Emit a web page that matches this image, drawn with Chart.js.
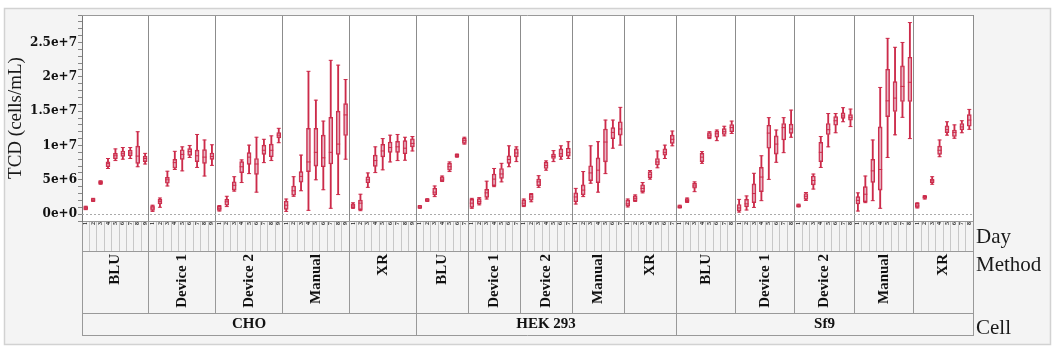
<!DOCTYPE html>
<html>
<head>
<meta charset="utf-8">
<script src="https://cdn.jsdelivr.net/npm/chart.js@4/dist/chart.umd.min.js"></script>
<style>
  html, body { margin: 0; padding: 0; background: #fff; }
  #wrap { width: 1056px; height: 349px; }
</style>
</head>
<body>
<div id="wrap"><canvas id="c" width="1056" height="349"></canvas></div>
<script>
// ---------- DATA (values in millions of cells/mL: [min, q1, median, q3, max]) ----------
const cellNames = ['CHO', 'HEK 293', 'Sf9'];
const methodNames = ['BLU', 'Device 1', 'Device 2', 'Manual', 'XR'];
const choDays = ['1', '2', '3', '4', '5', '6', '7', '8', '9'];
const hekDays = ['1', '2', '3', '4', '5', '6', '7'];
const sf9Days = ['1', '2', '3', '4', '5', '6', '7', '8'];
const yTickValues = [0, 5, 10, 15, 20, 25];
const yTickLabels = ['0e+0', '5e+6', '1e+7', '1.5e+7', '2e+7', '2.5e+7'];

const choBLU = [
  [0.65, 0.7, 0.9, 1.1, 1.15], [1.85, 1.9, 2.05, 2.25, 2.3], [4.35, 4.45, 4.6, 4.8, 4.85],
  [6.65, 6.9, 7.35, 7.6, 8.1], [7.8, 8.07, 8.5, 8.85, 9.5], [8.0, 8.4, 8.8, 9.2, 9.7],
  [8.1, 8.5, 8.9, 9.3, 9.7], [6.9, 7.4, 8.45, 9.9, 12.0], [7.3, 7.65, 8.1, 8.45, 8.85]
];
const choDevice1 = [
  [0.4, 0.55, 0.9, 1.2, 1.3], [1.0, 1.5, 1.85, 2.15, 2.35], [4.1, 4.52, 5.0, 5.35, 6.25],
  [6.5, 6.7, 7.5, 7.97, 9.15], [6.3, 7.97, 8.7, 9.38, 9.8], [8.25, 8.55, 9.1, 9.55, 10.0],
  [6.8, 7.64, 8.5, 9.33, 11.6], [5.55, 7.4, 8.3, 9.4, 10.8], [7.1, 7.97, 8.4, 8.9, 10.1]
];
const choDevice2 = [
  [0.45, 0.55, 0.85, 1.15, 1.25], [1.1, 1.3, 1.8, 2.15, 2.6], [3.35, 3.5, 4.2, 4.7, 5.45],
  [4.6, 6.05, 6.9, 7.65, 7.9], [5.9, 7.25, 8.3, 8.95, 10.05], [3.2, 5.8, 7.3, 8.1, 11.2],
  [7.5, 8.7, 9.3, 10.05, 10.9], [7.8, 8.36, 9.3, 10.2, 11.4], [10.4, 11.1, 11.5, 11.87, 12.5]
];
const choManual = [
  [0.4, 0.7, 1.3, 1.9, 2.2], [2.6, 2.75, 3.4, 4.1, 5.45], [3.4, 4.65, 5.5, 6.2, 8.6],
  [0.55, 6.2, 7.6, 12.5, 20.8], [5.0, 7.0, 9.0, 12.5, 16.6], [3.55, 6.9, 8.2, 11.5, 13.55],
  [0.85, 7.3, 9.0, 14.1, 22.4], [2.85, 8.7, 10.2, 15.0, 21.7], [8.0, 11.45, 14.45, 16.1, 19.6]
];
const choXR = [
  [0.85, 0.9, 1.2, 1.5, 1.65], [0.5, 0.65, 1.6, 2.05, 2.9], [3.9, 4.57, 5.0, 5.45, 6.0],
  [6.05, 6.95, 7.8, 8.6, 9.8], [6.45, 8.35, 9.2, 10.15, 11.0], [7.6, 9.0, 9.7, 10.5, 11.5],
  [7.8, 9.0, 9.8, 10.6, 11.6], [7.85, 8.8, 9.6, 10.7, 11.2], [9.2, 9.8, 10.3, 10.95, 11.3]
];
const hekBLU = [
  [0.85, 0.9, 1.05, 1.2, 1.25], [1.85, 1.9, 2.05, 2.2, 2.25], [2.55, 2.8, 3.2, 3.77, 4.1],
  [4.75, 4.83, 5.1, 5.45, 5.55], [6.2, 6.42, 6.9, 7.4, 7.6], [8.3, 8.35, 8.5, 8.7, 8.75],
  [10.2, 10.3, 10.7, 11.05, 11.2]
];
const hekDevice1 = [
  [0.85, 0.98, 1.6, 2.15, 2.3], [1.35, 1.47, 1.85, 2.25, 2.4], [2.2, 2.45, 3.1, 3.6, 4.8],
  [4.0, 4.15, 5.1, 5.84, 6.65], [4.7, 5.2, 5.85, 6.65, 7.4], [6.9, 7.4, 7.95, 8.5, 9.95],
  [7.65, 8.35, 8.9, 9.5, 9.8]
];
const hekDevice2 = [
  [1.1, 1.18, 1.6, 2.05, 2.2], [1.8, 2.05, 2.5, 2.9, 3.0], [3.9, 4.15, 4.7, 5.1, 5.6],
  [6.4, 6.65, 7.1, 7.55, 7.75], [7.65, 8.1, 8.4, 8.75, 9.25], [8.0, 8.35, 8.8, 9.5, 9.95],
  [8.1, 8.45, 9.0, 9.6, 10.55]
];
const hekManual = [
  [1.47, 1.8, 2.5, 3.1, 3.75], [2.55, 2.8, 3.5, 4.25, 6.2], [4.5, 4.87, 6.0, 7.05, 9.95],
  [3.2, 4.6, 6.4, 8.2, 10.55], [5.9, 7.6, 10.5, 12.4, 13.7], [9.6, 11.0, 11.9, 12.6, 13.7],
  [10.05, 11.5, 12.4, 13.45, 15.55]
];
const hekXR = [
  [1.05, 1.18, 1.5, 2.05, 2.2], [1.85, 1.95, 2.3, 2.65, 2.8], [3.1, 3.27, 3.75, 4.25, 4.6],
  [5.1, 5.3, 5.75, 6.2, 6.35], [6.75, 7.15, 7.6, 8.1, 9.2], [8.1, 8.6, 9.0, 9.5, 10.05],
  [9.95, 10.3, 10.9, 11.5, 12.1]
];
const sf9BLU = [
  [0.9, 0.95, 1.08, 1.25, 1.3], [1.7, 1.8, 2.0, 2.25, 2.35], [3.27, 3.77, 4.1, 4.48, 4.7],
  [7.4, 7.64, 8.3, 8.85, 9.1], [11.0, 11.15, 11.5, 11.87, 12.0], [10.7, 11.2, 11.7, 12.1, 12.25],
  [11.4, 11.6, 12.0, 12.45, 12.8], [11.75, 12.0, 12.6, 13.05, 13.55]
];
const sf9Device1 = [
  [0.3, 0.45, 0.9, 1.4, 2.15], [0.6, 1.08, 1.5, 2.15, 2.65], [0.98, 1.67, 3.0, 4.4, 5.95],
  [1.96, 3.27, 5.4, 6.8, 8.5], [5.06, 9.6, 11.8, 12.95, 14.05], [7.55, 8.75, 10.2, 11.4, 12.25],
  [8.95, 10.8, 12.6, 13.2, 14.05], [11.2, 11.75, 12.4, 13.1, 15.15]
];
const sf9Device2 = [
  [1.05, 1.1, 1.23, 1.4, 1.45], [2.0, 2.15, 2.6, 3.0, 3.15], [3.65, 4.25, 4.9, 5.55, 5.84],
  [6.8, 7.64, 9.0, 10.45, 11.3], [9.8, 11.6, 12.3, 13.2, 14.65], [11.85, 12.95, 13.6, 14.2, 14.65],
  [13.45, 13.95, 14.3, 14.75, 15.5], [12.75, 13.7, 14.1, 14.5, 15.3]
];
const sf9Manual = [
  [0.45, 1.47, 2.0, 2.55, 3.1], [1.67, 1.8, 2.9, 4.0, 5.55], [1.96, 4.63, 6.3, 7.97, 10.8],
  [0.85, 3.5, 6.5, 12.7, 18.45], [8.25, 14.2, 16.5, 21.1, 25.6], [11.55, 14.95, 16.9, 19.3, 24.3],
  [14.1, 16.4, 18.6, 21.6, 25.0], [11.0, 16.4, 19.2, 22.85, 27.9]
];
const sf9XR = [
  [0.9, 0.98, 1.2, 1.57, 1.65], [2.2, 2.3, 2.45, 2.6, 2.7], [4.35, 4.57, 4.85, 5.1, 5.45],
  [8.36, 8.7, 9.3, 9.9, 10.8], [11.5, 11.87, 12.3, 12.85, 13.45], [11.05, 11.3, 11.9, 12.25, 13.0],
  [11.85, 12.25, 12.7, 13.2, 13.6], [12.35, 12.8, 13.7, 14.5, 15.25]
];

const cellDays = [choDays, hekDays, sf9Days];
const cellBoxes = [
  [choBLU, choDevice1, choDevice2, choManual, choXR],
  [hekBLU, hekDevice1, hekDevice2, hekManual, hekXR],
  [sf9BLU, sf9Device1, sf9Device2, sf9Manual, sf9XR]
];

// ---------- build category structure ----------
const labels = [];
const stats = [];
const methodStarts = [];
const methodTicks = [];
const cellTicks = [];
let idx = 0;
cellNames.forEach((cell, ci) => {
  const cellStart = idx;
  cellTicks.push({ value: idx - 0.5 });
  methodNames.forEach((m, mi) => {
    const start = idx;
    methodStarts.push(start);
    methodTicks.push({ value: start - 0.5 });
    cellDays[ci].forEach((d, di) => {
      labels.push(d);
      stats.push(cellBoxes[ci][mi][di]);
      idx++;
    });
    methodTicks.push({ value: (start + idx - 1) / 2, name: m });
  });
  cellTicks.push({ value: (cellStart + idx - 1) / 2, name: cell });
});
methodTicks.push({ value: idx - 0.5 });
cellTicks.push({ value: idx - 0.5 });

const RED = '#cc2b4a';
const FILL = 'rgba(214, 120, 145, 0.5)';
const SERIF = '"Liberation Serif", "Times New Roman", serif';

const framePlugin = {
  id: 'frame',
  beforeDraw(chart) {
    const ctx = chart.ctx, a = chart.chartArea;
    ctx.save();
    ctx.fillStyle = '#ffffff';
    ctx.fillRect(0, 0, chart.width, chart.height);
    ctx.fillStyle = '#f4f4f4';
    ctx.fillRect(5, 9, 1045, 335);
    ctx.strokeStyle = '#d2d2d2';
    ctx.lineWidth = 1.5;
    ctx.strokeRect(4.5, 8.5, 1046, 336);
    ctx.fillStyle = '#ffffff';
    ctx.fillRect(a.left, a.top, a.right - a.left, a.bottom - a.top);
    ctx.restore();
  },
  beforeDatasetsDraw(chart) {
    const ctx = chart.ctx, a = chart.chartArea;
    const y0 = Math.round(chart.scales.y.getPixelForValue(0)) + 0.5;
    ctx.save();
    ctx.strokeStyle = '#aaaaaa';
    ctx.lineWidth = 1;
    ctx.setLineDash([2, 2]);
    ctx.beginPath();
    ctx.moveTo(a.left, y0);
    ctx.lineTo(a.right, y0);
    ctx.stroke();
    ctx.restore();
  },
  afterDraw(chart) {
    const ctx = chart.ctx, a = chart.chartArea, s = chart.scales;
    ctx.save();
    ctx.strokeStyle = '#999999';
    ctx.lineWidth = 1;
    ctx.beginPath();
    ctx.moveTo(a.left, a.top + 0.5);
    ctx.lineTo(a.right, a.top + 0.5);
    ctx.moveTo(a.left, s.xc.bottom - 0.5);
    ctx.lineTo(a.right, s.xc.bottom - 0.5);
    ctx.stroke();
    ctx.fillStyle = '#1a1a1a';
    ctx.font = '21px ' + SERIF;
    ctx.textAlign = 'left';
    ctx.textBaseline = 'alphabetic';
    ctx.fillText('Day', a.right + 3, s.x.top + 22);
    ctx.fillText('Method', a.right + 3, s.xm.top + 20);
    ctx.fillText('Cell', a.right + 3, s.xc.top + 21);
    ctx.restore();
  }
};

const isBoundary = (i) => i === undefined || methodStarts.includes(i) || i >= labels.length;

new Chart(document.getElementById('c'), {
  type: 'bar',
  data: {
    labels: labels,
    datasets: [
      { type: 'bar', data: stats.map(s => [s[0], s[1]]), xAxisID: 'x', yAxisID: 'y',
        barThickness: 1.2, backgroundColor: RED, grouped: false, order: 4 },
      { type: 'bar', data: stats.map(s => [s[3], s[4]]), xAxisID: 'x', yAxisID: 'y',
        barThickness: 1.2, backgroundColor: RED, grouped: false, order: 4 },
      { type: 'bar', data: stats.map(s => [s[1], s[3]]), xAxisID: 'x', yAxisID: 'y',
        barThickness: 4, backgroundColor: FILL, borderColor: RED, borderWidth: 1,
        borderSkipped: false, grouped: false, order: 3 },
      { type: 'line', data: stats.map(s => s[0]), xAxisID: 'x', yAxisID: 'y', showLine: false,
        pointStyle: 'line', pointRadius: 2, pointBorderWidth: 1, pointBorderColor: RED, order: 2 },
      { type: 'line', data: stats.map(s => s[4]), xAxisID: 'x', yAxisID: 'y', showLine: false,
        pointStyle: 'line', pointRadius: 2, pointBorderWidth: 1, pointBorderColor: RED, order: 2 },
      { type: 'line', data: stats.map(s => s[2]), xAxisID: 'x', yAxisID: 'y', showLine: false,
        pointStyle: 'line', pointRadius: 2, pointBorderWidth: 1, pointBorderColor: RED, order: 1 }
    ]
  },
  options: {
    responsive: false,
    devicePixelRatio: 1,
    animation: false,
    events: [],
    layout: { padding: { left: 5, right: 83, top: 15, bottom: 13 } },
    plugins: { legend: { display: false }, tooltip: { enabled: false } },
    scales: {
      x: {
        type: 'category', position: 'bottom', weight: 0, offset: true,
        grid: {
          offset: true, drawOnChartArea: true, lineWidth: 1, tickLength: 30,
          color: c => isBoundary(c.index) ? '#8c8c8c' : 'rgba(0,0,0,0)',
          tickColor: c => isBoundary(c.index) ? '#999999' : '#c8c8c8'
        },
        border: { display: true, color: '#999999' },
        ticks: { autoSkip: false, minRotation: 90, maxRotation: 90, padding: -29,
          font: { family: SERIF, size: 6, weight: 'bold' }, color: '#222' },
        afterFit: s => { s.height = 30; }
      },
      xm: {
        type: 'linear', position: 'bottom', weight: 1, min: -0.5, max: 119.5,
        bounds: 'data', offset: false,
        grid: { offset: false, drawOnChartArea: false, tickLength: 62,
          tickColor: c => (c.tick && c.tick.name) ? 'rgba(0,0,0,0)' : '#999999' },
        border: { display: true, color: '#999999' },
        afterBuildTicks: s => { s.ticks = methodTicks.map(t => Object.assign({}, t)); },
        ticks: { autoSkip: false, minRotation: 90, maxRotation: 90, padding: -59,
          font: { family: SERIF, size: 15, weight: 'bold' }, color: '#111',
          callback: (v, i, t) => t[i].name || '' },
        afterFit: s => { s.height = 62; }
      },
      xc: {
        type: 'linear', position: 'bottom', weight: 2, min: -0.5, max: 119.5,
        bounds: 'data', offset: false,
        grid: { offset: false, drawOnChartArea: false, tickLength: 23,
          tickColor: c => (c.tick && c.tick.name) ? 'rgba(0,0,0,0)' : '#999999' },
        border: { display: true, color: '#999999' },
        afterBuildTicks: s => { s.ticks = cellTicks.map(t => Object.assign({}, t)); },
        ticks: { autoSkip: false, minRotation: 0, maxRotation: 0, padding: -21,
          font: { family: SERIF, size: 15, weight: 'bold' }, color: '#111',
          callback: (v, i, t) => t[i].name || '' },
        afterFit: s => { s.height = 23; }
      },
      y: {
        type: 'linear', position: 'left', min: -1, max: 29,
        grid: { drawOnChartArea: false, tickLength: 4, tickColor: '#888888' },
        border: { display: true, color: '#777777' },
        ticks: { stepSize: 1, autoSkip: false, padding: 1,
          font: { family: '"DejaVu Serif", serif', size: 12, weight: 'bold' }, color: '#111',
          callback: v => { const k = yTickValues.indexOf(v); return k >= 0 ? yTickLabels[k] : ''; } },
        title: { display: true, text: 'TCD (cells/mL)', color: '#1a1a1a',
          font: { family: SERIF, size: 19 }, padding: { top: 0, bottom: 0 } },
        afterFit: s => { s.width = 77; }
      }
    }
  },
  plugins: [framePlugin]
});
</script>
</body>
</html>
